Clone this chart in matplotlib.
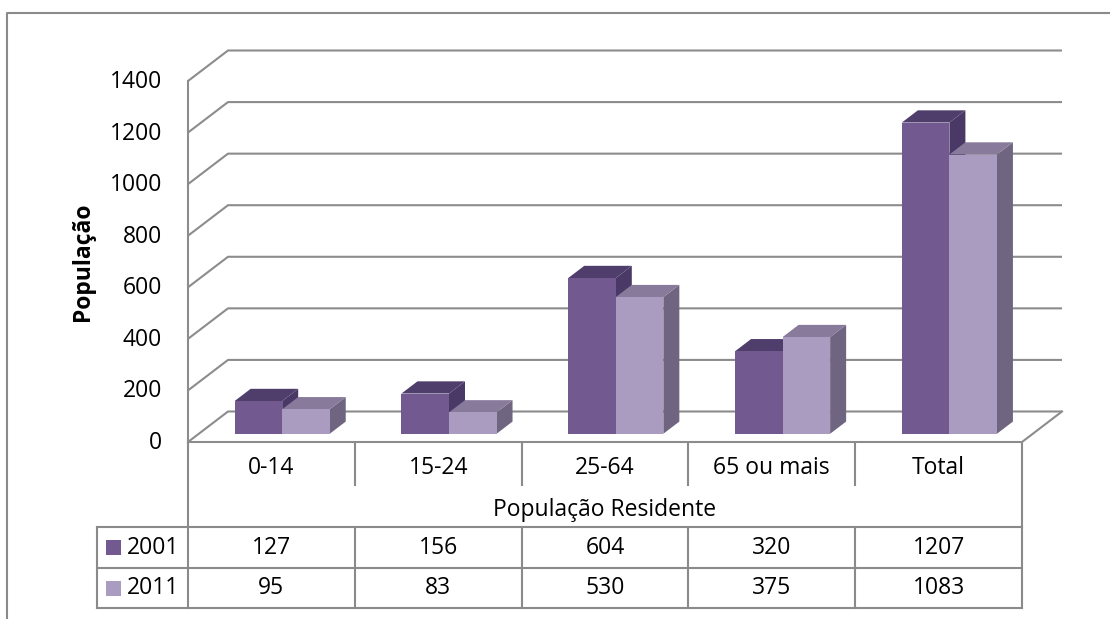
import matplotlib.pyplot as plt
import numpy as np

# population by age group, census 2001 vs 2011
categories = ['0-14', '15-24', '25-64', '65 ou mais', 'Total']
series_names = ['2001', '2011']
pop_2001 = [127, 156, 604, 320, 1207]
pop_2011 = [95, 83, 530, 375, 1083]
y_ticks = [0, 200, 400, 600, 800, 1000, 1200, 1400]
x_title = 'População Residente'
y_title = 'População'

W, H, DPI = 1110, 619, 100

# face colours: front, top, side
COLORS = {
    '2001': ('#72598F', '#4F3D6C', '#4A3966'),
    '2011': ('#AA9BC0', '#877A9A', '#6F6580'),
}
GRID = '#8C8C8C'
FONT = 'Open Sans'
FS = 16.5

plt.rcParams['font.family'] = [FONT, 'DejaVu Sans']

fig = plt.figure(figsize=(W / DPI, H / DPI), dpi=DPI)

# front plane of the 3D plot, in pixel terms
left, right, top, bottom = 188, 1022, 81, 442
depth_px = (40, 30.5)
ax = fig.add_axes([left / W, 1 - bottom / H, (right - left) / W, (bottom - top) / H])
ax.set_xlim(0, len(categories))
ax.set_ylim(0, max(y_ticks))
ax.axis('off')

# overlay in pixel coordinates for frame, table and labels
ov = fig.add_axes([0, 0, 1, 1], zorder=-1)
ov.set_xlim(0, W)
ov.set_ylim(H, 0)
ov.axis('off')


def to_px(x, y):
    p = ax.transData.transform((x, y))
    return p[0], H - p[1]


o = ax.transData.transform((0, 0))
dxu = depth_px[0] / (ax.transData.transform((1, 0))[0] - o[0])
dyu = depth_px[1] / (ax.transData.transform((0, 1))[1] - o[1])
n = len(categories)

lw = 1.5
# walls and floor
for v in y_ticks:
    ax.plot([0, dxu, n + dxu], [v, v + dyu, v + dyu], color=GRID, lw=lw,
            clip_on=False, zorder=1, solid_capstyle='butt')
ax.plot([0, 0], [0, max(y_ticks)], color=GRID, lw=lw, clip_on=False, zorder=1)
ax.plot([0, n, n + dxu], [0, 0, dyu], color=GRID, lw=lw, clip_on=False, zorder=1)

# 3D columns
bw = 0.285
f0, f1 = 0.27, 0.67
x = np.arange(n)
for s, (name, vals) in enumerate(zip(series_names, [pop_2001, pop_2011])):
    front, topc, side = COLORS[name]
    xl = x + 0.5 - bw + s * bw
    z = 2 + 2 * s
    for xi, v in zip(xl, vals):
        a, b = xi + f0 * dxu, f0 * dyu
        dd, de = (f1 - f0) * dxu, (f1 - f0) * dyu
        ax.fill([a + bw, a + bw + dd, a + bw + dd, a + bw],
                [b, b + de, b + de + v, b + v], color=side, lw=0,
                clip_on=False, zorder=z)
        ax.fill([a, a + bw, a + bw + dd, a + dd],
                [b + v, b + v, b + v + de, b + v + de], color=topc, lw=0,
                clip_on=False, zorder=z)
    ax.bar(xl + f0 * dxu, vals, width=bw, bottom=f0 * dyu, align='edge',
           color=front, lw=0, zorder=z + 1, clip_on=False)

# y tick labels
for v in y_ticks:
    px, py = to_px(0, v)
    ov.text(px - 26, py + 1, str(v), ha='right', va='center', fontsize=FS)

ov.text(83, to_px(0, max(y_ticks) / 2)[1], y_title, rotation=90, ha='center',
        va='center', fontsize=FS, fontweight='bold')

# outer frame
ov.plot([7, 7, W], [H, 13, 13], color='#8A8A8A', lw=1.5)

# data table
edges = [to_px(i, 0)[0] for i in range(n + 1)]
leg_left = 97
rows = [443, 485, 527, 568, 608]
tc = '#8A8A8A'
for e in edges[1:-1]:
    ov.plot([e, e], [rows[0], rows[1]], color=tc, lw=lw)
    ov.plot([e, e], [rows[2], rows[4]], color=tc, lw=lw)
for e in (edges[0], edges[-1]):
    ov.plot([e, e], [rows[0], rows[4]], color=tc, lw=lw)
ov.plot([leg_left, leg_left], [rows[2], rows[4]], color=tc, lw=lw)
for r in rows[2:]:
    ov.plot([leg_left, edges[-1]], [r, r], color=tc, lw=lw)

for i, c in enumerate(categories):
    ov.text((edges[i] + edges[i + 1]) / 2, 468, c, ha='center', va='center', fontsize=FS)
ov.text((edges[0] + edges[-1]) / 2, 510, x_title, ha='center', va='center', fontsize=FS)

for r, (name, vals) in enumerate(zip(series_names, [pop_2001, pop_2011])):
    cy = (rows[2 + r] + rows[3 + r]) / 2
    ov.add_patch(plt.Rectangle((106, cy - 7.5), 15, 15, color=COLORS[name][0], lw=0))
    ov.text(127, cy, name, ha='left', va='center', fontsize=FS)
    for i, v in enumerate(vals):
        ov.text((edges[i] + edges[i + 1]) / 2, cy, str(v), ha='center',
                va='center', fontsize=FS)

fig.savefig('out.png', dpi=DPI)
